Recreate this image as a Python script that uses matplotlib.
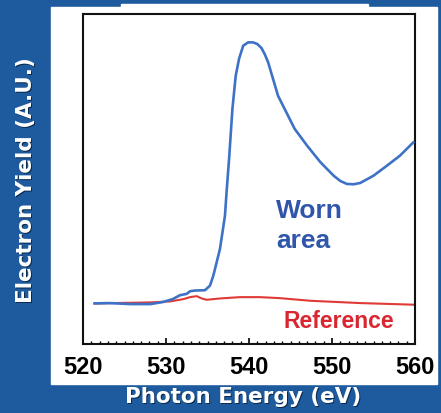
import matplotlib
matplotlib.use('Agg')
import matplotlib.pyplot as plt
from matplotlib.patches import Rectangle
from matplotlib.ticker import MultipleLocator

# O K-edge electron yield, worn area vs reference (arbitrary units)
worn_energy = [521.4, 523.2, 525.7, 528.1, 529.6, 530.8, 531.7, 532.5, 532.9,
               533.5, 534.7, 535.3, 535.7, 535.9, 536.5, 537.1, 537.3, 537.6,
               538.0, 538.4, 538.8, 539.3, 539.9, 540.5, 541.0, 541.5, 541.9,
               542.3, 542.9, 543.5, 544.5, 545.5, 547.0, 548.6, 550.2, 551.0,
               551.8, 552.6, 553.4, 555.0, 556.6, 558.2, 559.8]
worn_yield = [0.123, 0.124, 0.121, 0.121, 0.127, 0.136, 0.148, 0.152, 0.160,
              0.162, 0.163, 0.177, 0.207, 0.227, 0.288, 0.388, 0.461, 0.561,
              0.712, 0.813, 0.864, 0.904, 0.914, 0.914, 0.909, 0.897, 0.878,
              0.854, 0.803, 0.752, 0.702, 0.652, 0.601, 0.551, 0.510, 0.494,
              0.485, 0.484, 0.488, 0.510, 0.540, 0.571, 0.611]

ref_energy = [521.4, 528.1, 530.5, 532.1, 532.9, 533.7, 534.3, 534.9, 536.5,
              538.9, 541.3, 543.7, 547.4, 553.4, 560.0]
ref_yield = [0.123, 0.126, 0.129, 0.136, 0.142, 0.145, 0.138, 0.134, 0.138,
             0.142, 0.142, 0.139, 0.131, 0.124, 0.119]

xticks = [520, 530, 540, 550, 560]

bg = '#1e5b9e'
fig = plt.figure(figsize=(4.41, 4.14), dpi=100, facecolor=bg)

# white panel behind the plot
fig.patches.append(Rectangle((51/441, 1-385/414), (437-51)/441, (385-8)/414,
                             transform=fig.transFigure, color='white', zorder=-5))
fig.patches.append(Rectangle((121/441, 1-8/414), (368-121)/441, 3/414,
                             transform=fig.transFigure, color='white', zorder=-5))

ax = fig.add_axes([83/441, 1-345/414, 332/441, 330/414])
ax.set_zorder(2)
ax.set_facecolor('white')
ax.plot(ref_energy, ref_yield, color='#e03a36', lw=1.5, zorder=2)
ax.plot(worn_energy, worn_yield, color='#3d72c6', lw=1.9, zorder=3)

ax.set_xlim(520, 560)
ax.set_ylim(0, 1)
ax.set_xticks(xticks)
ax.xaxis.set_minor_locator(MultipleLocator(1))
ax.set_yticks([])
ax.tick_params(axis='x', which='major', direction='in', length=4, width=1.2,
               pad=8, labelsize=17)
ax.tick_params(axis='x', which='minor', direction='in', length=2.2, width=1)
for lab in ax.get_xticklabels():
    lab.set_fontweight('bold')
    lab.set_family('Liberation Sans')
for sp in ax.spines.values():
    sp.set_linewidth(1.5)
    sp.set_color('#111111')

lbl = dict(fontweight='bold', family='Liberation Sans', va='baseline', ha='left')
ax.text(543.3, 0.385, 'Worn', color='#2f56aa', fontsize=19, **lbl)
ax.text(543.3, 0.294, 'area', color='#2f56aa', fontsize=19, **lbl)
ax.text(544.1, 0.052, 'Reference', color='#d92630', fontsize=16.5, **lbl)

# axis titles in white with a dark drop shadow
shadow = dict(color='#0a2a50', fontsize=15.5, fontweight='bold', family='DejaVu Sans')
white = dict(color='white', fontsize=15.5, fontweight='bold', family='DejaVu Sans')
fig.text(243/441 + 0.003, 1-397/414 - 0.003, 'Photon Energy (eV)', ha='center', va='center', **shadow)
fig.text(243/441, 1-397/414, 'Photon Energy (eV)', ha='center', va='center', **white)
fig.text(26/441 + 0.003, 1-180/414 - 0.003, 'Electron Yield (A.U.)', rotation=90,
         ha='center', va='center', **shadow)
fig.text(26/441, 1-180/414, 'Electron Yield (A.U.)', rotation=90,
         ha='center', va='center', **white)

fig.savefig('out.png', dpi=100, facecolor=bg)
